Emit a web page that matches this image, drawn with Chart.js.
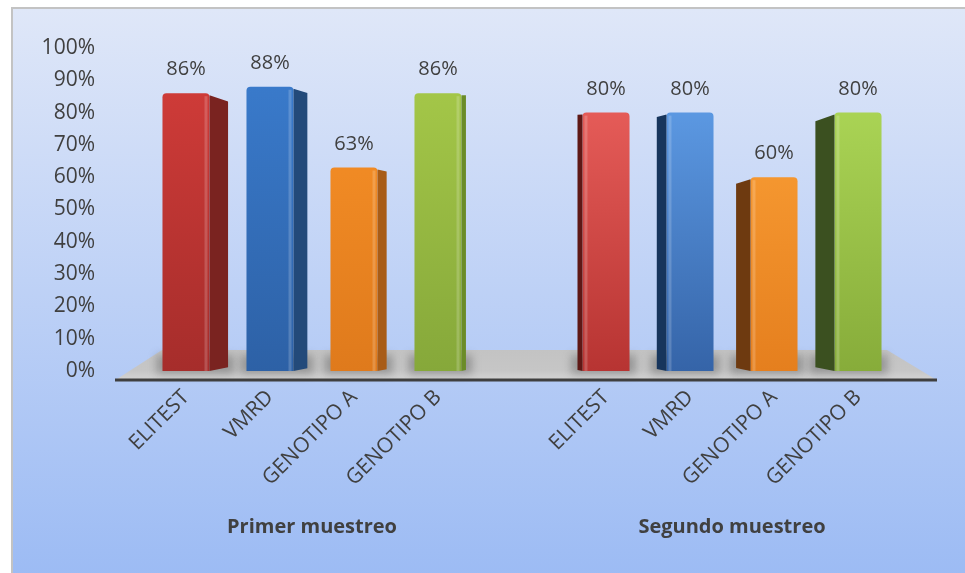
<!DOCTYPE html>
<html>
<head>
<meta charset="utf-8">
<script src="https://cdn.jsdelivr.net/npm/chart.js@4"></script>
<style>
body { margin: 0; background: #fff; }
#marco {
    position: absolute; left: 11px; top: 7px; width: 960px; height: 570px;
    box-sizing: border-box;
    border-left: 2px solid #c3c3c3; border-top: 2px solid #c3c3c3;
    background: linear-gradient(#dfe7f8, #9cbbf4);
}
#caja { position: absolute; left: 0; top: 0; width: 958px; height: 568px; }
</style>
</head>
<body>
<div id="marco"><div id="caja"><canvas id="grafico"></canvas></div></div>
<script>
// datos
const categorias = ['ELITEST', 'VMRD', 'GENOTIPO A', 'GENOTIPO B', '', 'ELITEST', 'VMRD', 'GENOTIPO A', 'GENOTIPO B'];
const valores = [86, 88, 63, 86, null, 80, 80, 60, 80];
const grupos = ['Primer muestreo', 'Segundo muestreo'];
const indicesGrupo = [[0, 3], [5, 8]];
const ticksY = [0, 10, 20, 30, 40, 50, 60, 70, 80, 90, 100];

// colores de cada barra (frente arriba, frente abajo, lateral)
const colorArriba = ['#d43d3a', '#3b7dcf', '#fb9429', '#a8cb4a', null, '#f06561', '#65a5f0', '#ffa63b', '#b2dd5b'];
const colorAbajo = ['#a62d2b', '#2d61a6', '#df7a1c', '#86a83a', null, '#b73432', '#3564a8', '#e57f1e', '#87ac3a'];
const colorLado = ['#7a2320', '#234a7a', '#a85c17', '#6b8c28', null, '#5e1815', '#17355c', '#6e3a10', '#3b5020'];

const texto = '#404040';
const fuente = { family: 'Open Sans', size: 21 };

const grafico = document.getElementById('grafico');

function ladoBarra(chart, x) {
    const area = chart.chartArea;
    return ((area.left + area.right) / 2 - 5 - x) * 0.056;
}

const barras3d = {
    id: 'barras3d',
    beforeDatasetsDraw(chart) {
        const { ctx, chartArea } = chart;
        const y0 = chart.scales.y.getPixelForValue(0);
        const l = chartArea.left, r = chartArea.right;
        ctx.save();
        // piso
        const g = ctx.createLinearGradient(0, y0 - 21, 0, y0 + 8);
        g.addColorStop(0, '#c3c3c3');
        g.addColorStop(0.7, '#c6c6c6');
        g.addColorStop(1, '#d2d2d2');
        ctx.fillStyle = g;
        ctx.beginPath();
        ctx.moveTo(l - 27, y0 + 8);
        ctx.lineTo(l + 18, y0 - 21);
        ctx.lineTo(r - 13, y0 - 21);
        ctx.lineTo(r + 35, y0 + 8);
        ctx.closePath();
        ctx.fill();
        // sombras de las barras
        ctx.filter = 'blur(4px)';
        ctx.fillStyle = 'rgba(60,60,60,0.35)';
        chart.getDatasetMeta(0).data.forEach((barra, i) => {
            if (valores[i] === null) return;
            const p = barra.getProps(['x', 'base', 'width'], true);
            const lado = ladoBarra(chart, p.x);
            const izq = p.x - p.width / 2 + Math.min(lado, 0) - 6;
            const der = p.x + p.width / 2 + Math.max(lado, 0) + 6;
            ctx.fillRect(izq, p.base - 16, der - izq, 19);
        });
        ctx.filter = 'none';
        ctx.strokeStyle = '#3f3f3f';
        ctx.lineWidth = 3;
        ctx.beginPath();
        ctx.moveTo(l - 29, y0 + 9);
        ctx.lineTo(r + 37, y0 + 9);
        ctx.stroke();
        ctx.restore();
    },
    afterDatasetsDraw(chart) {
        const { ctx } = chart;
        const meta = chart.getDatasetMeta(0);
        ctx.save();
        meta.data.forEach((barra, i) => {
            if (valores[i] === null) return;
            const p = barra.getProps(['x', 'y', 'base', 'width'], true);
            const lado = ladoBarra(chart, p.x);
            const borde = lado > 0 ? p.x + p.width / 2 : p.x - p.width / 2;
            const a = Math.abs(lado);
            ctx.fillStyle = colorLado[i];
            ctx.beginPath();
            ctx.moveTo(borde, p.y + 2);
            ctx.lineTo(borde + lado, p.y + a * 0.45);
            ctx.lineTo(borde + lado, p.base - a * 0.2);
            ctx.lineTo(borde, p.base);
            ctx.closePath();
            ctx.fill();
            // brillo en la arista
            ctx.fillStyle = 'rgba(255,255,255,0.18)';
            ctx.fillRect(lado > 0 ? borde - 5 : borde + 2, p.y + 3, 3, p.base - p.y - 3);

            ctx.fillStyle = texto;
            ctx.font = '20px "Open Sans"';
            ctx.textAlign = 'center';
            ctx.textBaseline = 'alphabetic';
            ctx.fillText(valores[i] + '%', p.x, p.y - 18);
        });
        ctx.restore();
    },
    afterDraw(chart) {
        const { ctx, chartArea } = chart;
        const x = chart.scales.x;
        ctx.save();
        ctx.fillStyle = texto;
        ctx.font = 'bold 20px "Open Sans"';
        ctx.textAlign = 'center';
        ctx.textBaseline = 'middle';
        grupos.forEach((nombre, k) => {
            const [a, b] = indicesGrupo[k];
            const centro = (x.getPixelForValue(a) + x.getPixelForValue(b)) / 2;
            ctx.fillText(nombre, centro, chartArea.bottom + 156);
        });
        ctx.restore();
    }
};

new Chart(grafico, {
    type: 'bar',
    data: {
        labels: categorias,
        datasets: [{
            data: valores,
            backgroundColor: (c) => {
                const area = c.chart.chartArea;
                if (!area || colorArriba[c.dataIndex] === null) return 'rgba(0,0,0,0)';
                const g = c.chart.ctx.createLinearGradient(0, area.top, 0, area.bottom);
                g.addColorStop(0, colorArriba[c.dataIndex]);
                g.addColorStop(1, colorAbajo[c.dataIndex]);
                return g;
            },
            borderRadius: { topLeft: 4, topRight: 4 },
            borderSkipped: 'bottom',
            barPercentage: 0.56,
            categoryPercentage: 1
        }]
    },
    options: {
        responsive: true,
        maintainAspectRatio: false,
        animation: false,
        layout: { padding: { top: 39, right: 71, left: 0, bottom: 0 } },
        plugins: { legend: { display: false }, tooltip: { enabled: false } },
        scales: {
            x: {
                grid: { display: false, drawTicks: false },
                border: { display: false },
                ticks: { color: texto, font: fuente, minRotation: 45, maxRotation: 45, padding: 14, autoSkip: false },
                afterFit: (s) => { s.height = 206; }
            },
            y: {
                min: 0,
                max: 100,
                grid: { display: false, drawTicks: false },
                border: { display: false },
                afterBuildTicks: (s) => { s.ticks = ticksY.map(v => ({ value: v })); },
                ticks: { color: texto, font: fuente, padding: 49, callback: (v) => v + '%' },
                afterFit: (s) => {
                    s.width = 131;
                    s.paddingTop = 0;
                    s.paddingBottom = 0;
                }
            }
        }
    },
    plugins: [barras3d]
});
</script>
</body>
</html>
